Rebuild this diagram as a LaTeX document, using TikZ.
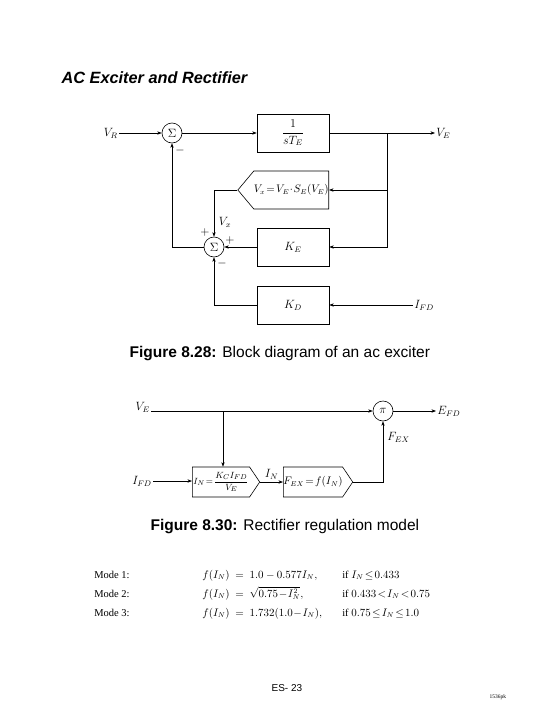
\documentclass[tikz,border=0pt]{standalone}
\usepackage{amsmath,amssymb}
\usepackage{fontspec}
\setmainfont{Liberation Serif}
\setsansfont{Liberation Sans}
\usetikzlibrary{positioning,arrows.meta,shapes.symbols}
\usepackage{xcolor}

\begin{document}
\begin{tikzpicture}[x=1pt,y=-1pt,>={Stealth[length=1.6mm,width=1.2mm]},line width=0.6pt,
  blk/.style={draw,rectangle,minimum width=72pt,minimum height=38pt,inner sep=1pt,font=\fontsize{12}{14}\selectfont},
  sig/.style={draw,signal,signal from=nowhere,inner xsep=0pt,inner ysep=1pt,font=\fontsize{10.5}{13}\selectfont},
  sumnode/.style={draw,circle,minimum size=20pt,inner sep=0pt,font=\fontsize{12}{14}\selectfont},
  lbl/.style={inner sep=1pt,font=\fontsize{12}{14}\selectfont},
  tabtext/.style={anchor=base west,inner sep=0pt,font=\fontsize{10.5}{12}\selectfont},
  captext/.style={font=\sffamily\fontsize{15.5}{18}\selectfont,anchor=west}]
\useasboundingbox (0,0) rectangle (540,720);
\node[anchor=west,font=\sffamily\bfseries\itshape\fontsize{16.3}{19}\selectfont] (title) at (58,78) {AC Exciter and Rectifier};

\node[sumnode] (sum1) at (172,133) {$\Sigma$};
\node[lbl,anchor=east] (vr) at (119,133) {$V_R$};
\node[blk] (blkte) at (293,133) {$\dfrac{1}{sT_E}$};
\node[lbl,anchor=west] (veout) at (435,133) {$V_E$};
\coordinate (jn) at (387,133);
\node[sig,signal to=west,signal pointer angle=100,minimum width=72pt,minimum height=38pt,anchor=east] (sat) at (329,190) {$V_x\!=\!V_E\!\cdot\!S_E(V_E)$};
\node[sumnode] (sum2) at (214,247) {$\Sigma$};
\node[blk] (blkke) at (293,247) {$K_E$};
\node[blk] (blkkd) at (293,305) {$K_D$};
\node[lbl,anchor=west] (ifd) at (413,305) {$I_{FD}$};
\node[lbl] (m1) at (180,150) {$-$};
\node[lbl] (p1) at (205,232) {$+$};
\node[lbl] (vx) at (225,222) {$V_x$};
\node[lbl] (p2) at (230,240) {$+$};
\node[lbl] (m2) at (222,263) {$-$};

\draw[->] (vr) -- (sum1);
\draw[->] (sum1) -- (blkte);
\draw[->] (blkte) -- (veout);
\draw[->] (jn) |- (blkke.east);
\draw[->] (jn |- sat.east) -- (sat.east);
\draw[->] (sat.west) -| (sum2.north);
\draw[->] (blkke) -- (sum2);
\draw[->] (blkkd.west) -| (sum2.south);
\draw[->] (ifd) -- (blkkd);
\draw[->] (sum2.west) -| (sum1.south);

\node[captext] (cap1) at (126,354) {\textbf{Figure 8.28:} Block diagram of an ac exciter};

\node[lbl,anchor=east] (ve2) at (151,407) {$V_E$};
\node[sumnode] (pi) at (383,411) {$\pi$};
\node[lbl,anchor=west] (efd) at (436,411) {$E_{FD}$};
\coordinate (j2) at (223,411);
\node[sig,signal to=east,signal pointer angle=112,minimum width=63pt,minimum height=30pt,anchor=west,inner xsep=1pt,font=\fontsize{9.5}{11}\selectfont] (blkin) at (192,482) {$I_N\!=\!\dfrac{K_C I_{FD}}{V_E}$};
\node[sig,signal to=east,signal pointer angle=112,minimum width=64pt,minimum height=30pt,anchor=west] (blkfex) at (283,482) {$F_{EX}\!=\!f(I_N)$};
\node[lbl,anchor=east] (ifd2) at (153,481) {$I_{FD}$};
\node[lbl,anchor=west] (fex) at (386,437) {$F_{EX}$};

\draw[->] (ve2.east |- pi) -- (pi);
\draw[->] (pi) -- (efd);
\draw[->] (j2) -- (j2 |- blkin.north);
\draw[->] (ifd2) -- (blkin.west |- ifd2);
\draw[->] (blkin.east) -- node[lbl,above=1pt] (in) {$I_N$} (blkfex.west);
\draw[->] (blkfex.east) -| (pi.south);

\node[captext] (cap2) at (147,527) {\textbf{Figure 8.30:} Rectifier regulation model};

\node[tabtext] (mode1) at (94,578) {Mode 1:};
\node[tabtext] (mode2) at (94,597) {Mode 2:};
\node[tabtext] (mode3) at (94,616) {Mode 3:};
\node[tabtext] (f1) at (202,578) {$f(I_N)\ =\ 1.0-0.577I_N,$};
\node[tabtext] (f2) at (202,597) {$f(I_N)\ =\ \sqrt{\smash[b]{0.75\!-\!I_N^2}},$};
\node[tabtext] (f3) at (202,616) {$f(I_N)\ =\ 1.732(1.0\!-\!I_N),$};
\node[tabtext] (c1) at (342,578) {if $I_N\!\le\!0.433$};
\node[tabtext] (c2) at (342,597) {if $0.433\!<\!I_N\!<\!0.75$};
\node[tabtext] (c3) at (342,616) {if $0.75\!\le\!I_N\!\le\!1.0$};

\node[anchor=west,font=\sffamily\fontsize{10}{12}\selectfont] (page) at (268,688) {ES- 23};
\node[anchor=west,font=\fontsize{5.5}{6}\selectfont] (code) at (486,697) {1536pk};
\end{tikzpicture}
\end{document}
